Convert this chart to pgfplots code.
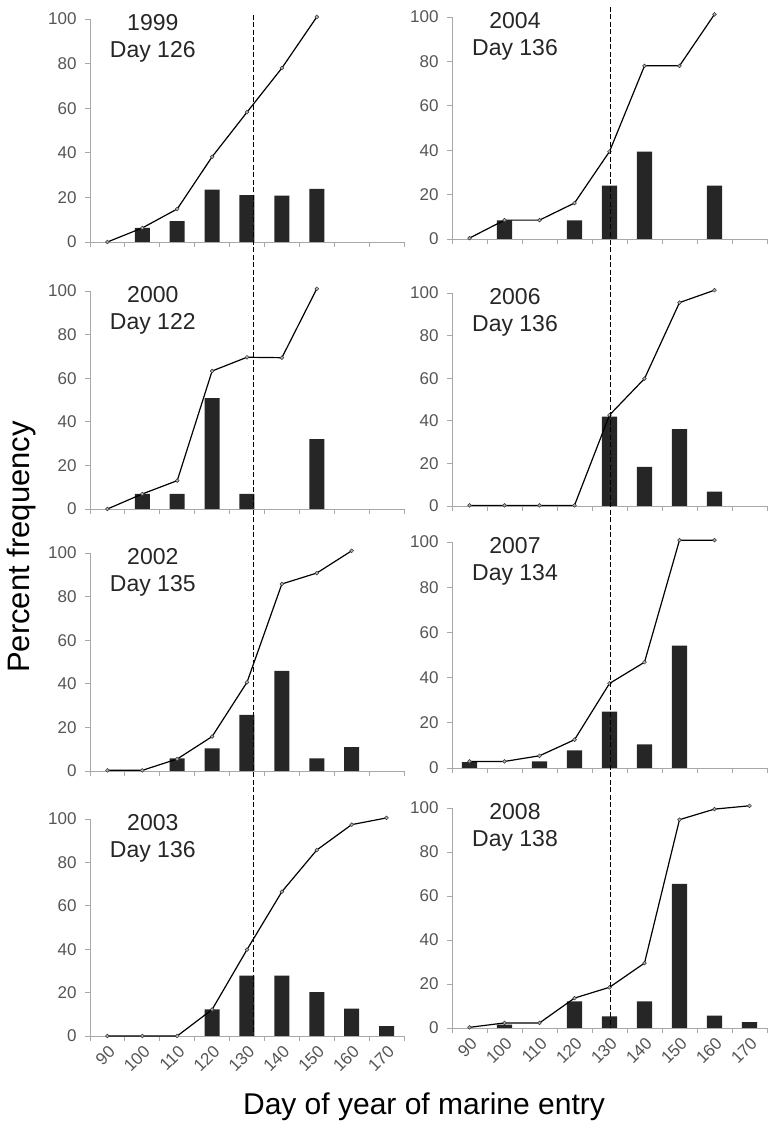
\documentclass[border=0pt]{standalone}
\usepackage{pgfplots}
\usepackage{pgfplotstable}
\pgfplotsset{compat=1.18}
\usepackage{fontspec}
\setmainfont{Liberation Sans}

% columns: category index (0 = day 90 ... 8 = day 170), bar height, cumulative percent
\pgfplotstableread{
idx bar cum
0 nan 0
1 6.3 6.3
2 9.4 14.8
3 23.5 38.2
4 21 58.2
5 20.8 78
6 23.8 100.9
7 nan nan
8 nan nan
}\tNineNine
\pgfplotstableread{
idx bar cum
0 nan 0
1 6.9 6.9
2 6.9 13
3 50.8 63.3
4 6.9 69.6
5 nan 69.4
6 32.1 101
7 nan nan
8 nan nan
}\tZeroZero
\pgfplotstableread{
idx bar cum
0 nan 0.3
1 nan 0.3
2 5.8 5.5
3 10.4 15.8
4 25.7 40.7
5 45.9 85.8
6 5.8 90.8
7 10.9 101
8 nan nan
}\tZeroTwo
\pgfplotstableread{
idx bar cum
0 nan 0
1 nan 0
2 nan 0
3 12.3 12.2
4 27.8 39.8
5 27.8 66.5
6 20.2 85.7
7 12.6 97.4
8 4.5 100.5
}\tZeroThree
\pgfplotstableread{
idx bar cum
0 nan 0.4
1 8.4 8.5
2 nan 8.5
3 8.4 16.2
4 24 39.4
5 39.4 78
6 nan 78
7 24 101.2
8 nan nan
}\tZeroFour
\pgfplotstableread{
idx bar cum
0 nan 0.3
1 nan 0.3
2 nan 0.3
3 nan 0.3
4 41.9 42.7
5 18.4 59.8
6 36.1 95.5
7 6.7 101.3
8 nan nan
}\tZeroSix
\pgfplotstableread{
idx bar cum
0 2.6 2.9
1 nan 2.9
2 2.9 5.4
3 7.8 12.5
4 24.9 37.4
5 10.4 46.8
6 54.1 100.8
7 nan 100.8
8 nan nan
}\tZeroSeven
\pgfplotstableread{
idx bar cum
0 nan 0.3
1 1.5 2.3
2 nan 2.3
3 12.1 13.6
4 5.3 18.5
5 12.1 29.5
6 65.5 94.7
7 5.6 99.5
8 2.7 101
}\tZeroEight

\definecolor{axisgray}{HTML}{A8A8A8}
\definecolor{ticktext}{HTML}{555555}
\definecolor{bardark}{HTML}{262626}

\pgfplotsset{
  panel/.style={
    scale only axis, anchor=south west,
    xmin=-0.5, xmax=8.5, ymin=0, ymax=100, clip=false,
    axis lines=left,
    axis line style={-, draw=axisgray, line width=0.8pt},
    xtick={-0.5,0.5,...,8.5}, xticklabels={},
    ytick={0,20,...,100},
    tick style={draw=axisgray, line width=0.8pt},
    major tick length=5pt, tick align=outside,
    /pgf/number format/assume math mode=true,
    yticklabel style={font=\fontsize{17}{19}\selectfont, text=ticktext, xshift=-5pt},
  },
  bottompanel/.style={
    extra x ticks={0,...,8},
    extra x tick labels={90,100,110,120,130,140,150,160,170},
    extra x tick style={major tick length=0pt,
      xticklabel style={font=\fontsize{17}{19}\selectfont, text=ticktext,
        xshift=7pt, yshift=-10pt, rotate=45, anchor=east}},
  },
  bars/.style={ybar, bar width=0.43, fill=bardark, draw=none},
  cumline/.style={black, line width=1.2pt, mark=*, mark size=1.9pt,
    mark options={fill=gray!60, draw=black!80, line width=0.5pt}},
}

\newcommand{\paneltitle}[2]{\node[anchor=north, align=center, inner sep=0pt,
  font=\fontsize{23}{27}\selectfont, text=black!85]
  at (rel axis cs:0.2,1.02) {#1\\#2};}

\begin{document}
\begin{tikzpicture}
\path[use as bounding box] (0pt,0pt) rectangle (784pt,1135pt);

% left column
\begin{axis}[panel, width=314pt, height=223pt, at={(90pt,893pt)}]
\addplot[bars] table[x=idx,y=bar] {\tNineNine};
\addplot[cumline] table[x=idx,y=cum] {\tNineNine};
\paneltitle{1999}{Day 126}
\coordinate (LT) at (axis cs:4.18,102);
\end{axis}

\begin{axis}[panel, width=314pt, height=218pt, at={(90pt,626pt)}]
\addplot[bars] table[x=idx,y=bar] {\tZeroZero};
\addplot[cumline] table[x=idx,y=cum] {\tZeroZero};
\paneltitle{2000}{Day 122}
\end{axis}

\begin{axis}[panel, width=314pt, height=218pt, at={(90pt,364pt)}]
\addplot[bars] table[x=idx,y=bar] {\tZeroTwo};
\addplot[cumline] table[x=idx,y=cum] {\tZeroTwo};
\paneltitle{2002}{Day 135}
\end{axis}

\begin{axis}[panel, bottompanel, width=314pt, height=217pt, at={(90pt,99pt)}]
\addplot[bars] table[x=idx,y=bar] {\tZeroThree};
\addplot[cumline] table[x=idx,y=cum] {\tZeroThree};
\paneltitle{2003}{Day 136}
\coordinate (LB) at (axis cs:4.18,0);
\end{axis}

% right column
\begin{axis}[panel, width=315pt, height=222pt, at={(452pt,896pt)}]
\addplot[bars] table[x=idx,y=bar] {\tZeroFour};
\addplot[cumline] table[x=idx,y=cum] {\tZeroFour};
\paneltitle{2004}{Day 136}
\coordinate (RT) at (axis cs:4.04,104.5);
\end{axis}

\begin{axis}[panel, width=315pt, height=213pt, at={(452pt,629pt)}]
\addplot[bars] table[x=idx,y=bar] {\tZeroSix};
\addplot[cumline] table[x=idx,y=cum] {\tZeroSix};
\paneltitle{2006}{Day 136}
\end{axis}

\begin{axis}[panel, width=315pt, height=226pt, at={(452pt,367pt)}]
\addplot[bars] table[x=idx,y=bar] {\tZeroSeven};
\addplot[cumline] table[x=idx,y=cum] {\tZeroSeven};
\paneltitle{2007}{Day 134}
\end{axis}

\begin{axis}[panel, bottompanel, width=315pt, height=220pt, at={(452pt,107pt)}]
\addplot[bars] table[x=idx,y=bar] {\tZeroEight};
\addplot[cumline] table[x=idx,y=cum] {\tZeroEight};
\paneltitle{2008}{Day 138}
\coordinate (RB) at (axis cs:4.04,0);
\end{axis}

\draw[black, line width=1.1pt, dash pattern=on 5pt off 2.5pt] (LT) -- (LB);
\draw[black, line width=1.1pt, dash pattern=on 5pt off 2.5pt] (RT) -- (RB);

\node[rotate=90, font=\fontsize{31}{34}\selectfont] at (21pt,588pt) {Percent frequency};
\node[font=\fontsize{30}{33}\selectfont] at (424pt,28pt) {Day of year of marine entry};
\end{tikzpicture}
\end{document}
